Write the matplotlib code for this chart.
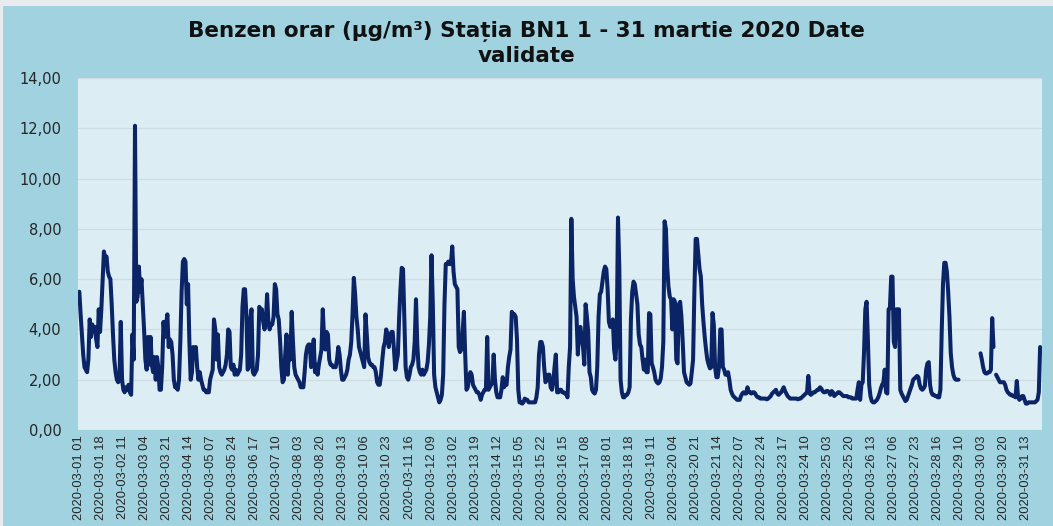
import numpy as np
import matplotlib
matplotlib.use("Agg")
import matplotlib.pyplot as plt
from matplotlib.ticker import FuncFormatter, MultipleLocator

# ---- data: hourly benzene concentration (µg/m³), one list per calendar day ----
N = None
day01 = [5.5, 4.6, 3.8, 3.0, 2.5, 2.4, 2.3, 2.8, 4.4, 3.7, 4.2, 4.0, 4.1, 3.6, 3.3, 4.8, 3.9, 4.8, 6.0, 7.1, 6.8, 6.9, 6.3, 6.1]
day02 = [6.0, 5.0, 3.8, 2.8, 2.3, 2.0, 1.9, 2.0, 4.3, 2.0, 1.6, 1.5, 1.7, 1.6, 1.8, 1.5, 1.4, 3.8, 2.8, 12.1, 5.1, 5.3, 6.5, 5.5]
day03 = [6.0, 5.0, 4.0, 2.8, 2.4, 3.7, 2.6, 3.7, 2.6, 2.3, 2.9, 2.0, 2.9, 2.5, 1.6, 1.6, 2.5, 4.3, 3.7, 4.2, 4.6, 3.3, 3.6, 3.5]
day04 = [3.0, 2.0, 1.7, 1.7, 1.6, 2.0, 3.5, 5.5, 6.7, 6.8, 6.7, 5.0, 5.8, 3.5, 2.0, 2.3, 3.3, 3.0, 3.3, 2.5, 2.0, 2.3, 2.0, 1.8]
day05 = [1.6, 1.6, 1.5, 1.5, 1.5, 2.0, 2.2, 2.4, 4.4, 4.0, 2.8, 3.8, 2.5, 2.3, 2.2, 2.3, 2.4, 2.6, 3.0, 4.0, 3.9, 2.5, 2.4, 2.6]
day06 = [2.2, 2.4, 2.2, 2.3, 2.4, 3.0, 4.9, 5.6, 5.6, 4.6, 2.4, 2.5, 4.4, 4.8, 2.3, 2.2, 2.3, 2.4, 3.0, 4.9, 4.8, 4.8, 4.3, 4.0]
day07 = [4.2, 5.4, 4.3, 4.0, 4.2, 4.2, 4.5, 5.8, 5.6, 4.6, 4.4, 3.6, 2.5, 1.9, 2.0, 3.0, 3.8, 2.2, 3.3, 2.8, 4.7, 3.5, 2.5, 2.2]
day08 = [2.1, 2.0, 1.9, 1.7, 1.7, 1.7, 2.3, 3.0, 3.3, 3.4, 3.4, 2.5, 3.0, 3.6, 2.3, 2.6, 2.2, 2.6, 2.9, 3.2, 4.8, 3.7, 3.2, 3.9]
day09 = [3.8, 2.8, 2.6, 2.6, 2.5, 2.5, 2.5, 2.8, 3.3, 3.0, 2.4, 2.0, 2.0, 2.1, 2.2, 2.4, 2.8, 3.0, 3.5, 4.6, 6.05, 5.4, 4.5, 4.0]
day10 = [3.3, 3.1, 2.9, 2.7, 2.5, 4.6, 3.8, 2.9, 2.7, 2.6, 2.6, 2.5, 2.5, 2.3, 1.9, 1.8, 1.8, 2.2, 2.8, 3.3, 3.5, 4.0, 3.8, 3.3]
day11 = [3.7, 3.9, 3.9, 3.2, 2.4, 2.7, 3.0, 4.5, 5.6, 6.45, 6.4, 4.5, 2.5, 2.1, 2.0, 2.2, 2.5, 2.6, 2.8, 3.5, 5.2, 3.4, 2.5, 2.3]
day12 = [2.2, 2.4, 2.2, 2.3, 2.4, 2.7, 3.4, 4.5, 6.95, 5.0, 2.2, 1.7, 1.5, 1.3, 1.1, 1.2, 1.4, 2.2, 5.0, 6.6, 6.6, 6.7, 6.6, 6.6]
day13 = [7.3, 6.3, 5.8, 5.7, 5.6, 3.3, 3.1, 3.2, 3.9, 4.7, 3.0, 1.6, 1.7, 2.1, 2.3, 2.2, 1.8, 1.7, 1.6, 1.5, 1.5, 1.4, 1.2, 1.4]
day14 = [1.5, 1.6, 1.6, 3.7, 1.6, 1.7, 1.8, 1.9, 3.0, 2.0, 1.5, 1.3, 1.3, 1.3, 1.6, 2.1, 1.7, 1.8, 1.8, 2.5, 2.9, 3.2, 4.7, 4.6]
day15 = [4.6, 4.5, 3.6, 1.6, 1.1, 1.1, 1.05, 1.1, 1.25, 1.2, 1.2, 1.1, 1.1, 1.1, 1.1, 1.1, 1.1, 1.3, 1.7, 3.0, 3.5, 3.5, 3.3, 2.5]
day16 = [1.9, 2.0, 2.2, 2.2, 1.7, 1.6, 1.9, 2.5, 3.0, 1.5, 1.5, 1.6, 1.6, 1.5, 1.5, 1.45, 1.45, 1.3, 2.5, 3.3, 8.4, 6.0, 5.3, 4.9]
day17 = [4.5, 3.0, 4.0, 4.1, 3.6, 3.3, 2.6, 5.0, 4.5, 3.9, 2.3, 2.1, 1.6, 1.5, 1.45, 1.6, 2.5, 4.5, 5.4, 5.5, 5.9, 6.3, 6.5, 6.4]
day18 = [5.6, 4.3, 4.1, 4.1, 4.4, 3.2, 2.8, 3.6, 8.45, 6.5, 2.0, 1.5, 1.3, 1.3, 1.4, 1.4, 1.5, 1.7, 4.4, 5.5, 5.9, 5.8, 5.4, 5.0]
day19 = [3.8, 3.4, 3.3, 2.8, 2.4, 2.8, 2.3, 2.3, 4.65, 4.6, 2.65, 2.5, 2.3, 2.0, 1.9, 1.85, 1.9, 2.05, 2.5, 3.5, 8.3, 8.0, 6.5, 5.7]
day20 = [5.3, 5.2, 4.0, 5.2, 5.1, 2.8, 2.65, 5.0, 5.1, 4.5, 3.5, 2.3, 2.1, 1.9, 1.85, 1.8, 1.85, 2.3, 2.8, 5.5, 7.6, 7.6, 7.0, 6.4]
day21 = [6.1, 5.0, 4.3, 3.7, 3.2, 2.8, 2.6, 2.45, 2.5, 4.65, 4.2, 2.5, 2.1, 2.1, 2.5, 4.0, 4.0, 2.5, 2.4, 2.2, 2.2, 2.3, 2.0, 1.6]
day22 = [1.45, 1.35, 1.3, 1.25, 1.2, 1.2, 1.2, 1.35, 1.45, 1.5, 1.45, 1.45, 1.7, 1.5, 1.5, 1.45, 1.5, 1.5, 1.45, 1.35, 1.3, 1.3, 1.25, 1.25]
day23 = [1.25, 1.25, 1.25, 1.22, 1.25, 1.3, 1.35, 1.45, 1.5, 1.55, 1.6, 1.45, 1.4, 1.45, 1.5, 1.6, 1.7, 1.55, 1.45, 1.35, 1.3, 1.25, 1.25, 1.25]
day24 = [1.25, 1.25, 1.25, 1.22, 1.25, 1.25, 1.3, 1.35, 1.4, 1.45, 1.5, 2.15, 1.45, 1.4, 1.45, 1.5, 1.5, 1.55, 1.6, 1.6, 1.7, 1.65, 1.55, 1.5]
day25 = [1.5, 1.55, 1.55, 1.5, 1.4, 1.55, 1.5, 1.35, 1.4, 1.45, 1.5, 1.5, 1.45, 1.4, 1.35, 1.35, 1.35, 1.35, 1.3, 1.3, 1.3, 1.25, 1.25, 1.25]
day26 = [1.25, 1.6, 1.9, 1.2, 1.8, 1.9, 3.05, 4.8, 5.1, 3.6, 1.8, 1.35, 1.15, 1.1, 1.1, 1.15, 1.2, 1.3, 1.45, 1.65, 1.8, 1.9, 2.4, 1.5]
day27 = [1.45, 4.8, 4.85, 6.1, 6.1, 3.5, 3.3, 4.8, 4.8, 4.8, 1.6, 1.45, 1.35, 1.25, 1.15, 1.2, 1.35, 1.5, 1.65, 1.8, 2.0, 2.05, 2.1, 2.15]
day28 = [2.1, 1.8, 1.65, 1.6, 1.65, 1.75, 2.4, 2.65, 2.7, 1.8, 1.5, 1.4, 1.4, 1.35, 1.35, 1.3, 1.3, 1.6, 3.9, 5.8, 6.65, 6.65, 6.3, 5.5]
# 29 March has 23 hours (DST change); hours 10..24 missing
day29 = [4.5, 3.05, 2.5, 2.2, 2.05, 2.0, 2.0, 2.0, N, N, N, N, N, N, N, N, N, N, N, N, N, N, N]
day30 = [N, 3.05, 2.8, 2.5, 2.3, 2.25, 2.25, 2.3, 2.3, 2.4, 4.45, 3.3, N, 2.2, 2.1, 2.0, 1.9, 1.9, 1.9, 1.9, 1.8, 1.6, 1.5, 1.45]
day31 = [1.4, 1.4, 1.35, 1.35, 1.3, 1.95, 1.3, 1.2, 1.25, 1.35, 1.35, 1.2, 1.05, 1.05, 1.1, 1.1, 1.1, 1.1, 1.1, 1.1, 1.15, 1.2, 1.5, 3.3]

days = [day01, day02, day03, day04, day05, day06, day07, day08, day09, day10,
        day11, day12, day13, day14, day15, day16, day17, day18, day19, day20,
        day21, day22, day23, day24, day25, day26, day27, day28, day29, day30, day31]

tick_labels = [
    "2020-03-01 01", "2020-03-01 18", "2020-03-02 11", "2020-03-03 04", "2020-03-03 21",
    "2020-03-04 14", "2020-03-05 07", "2020-03-05 24", "2020-03-06 17", "2020-03-07 10",
    "2020-03-08 03", "2020-03-08 20", "2020-03-09 13", "2020-03-10 06", "2020-03-10 23",
    "2020-03-11 16", "2020-03-12 09", "2020-03-13 02", "2020-03-13 19", "2020-03-14 12",
    "2020-03-15 05", "2020-03-15 22", "2020-03-16 15", "2020-03-17 08", "2020-03-18 01",
    "2020-03-18 18", "2020-03-19 11", "2020-03-20 04", "2020-03-20 21", "2020-03-21 14",
    "2020-03-22 07", "2020-03-22 24", "2020-03-23 17", "2020-03-24 10", "2020-03-25 03",
    "2020-03-25 20", "2020-03-26 13", "2020-03-27 06", "2020-03-27 23", "2020-03-28 16",
    "2020-03-29 10", "2020-03-30 03", "2020-03-30 20", "2020-03-31 13",
]
tick_step = 17

title = "Benzen orar (µg/m³) Stația BN1 1 - 31 martie 2020 Date\nvalidate"

# ---- plotting ----
values = np.array([v for d in days for v in d], dtype=float)
x = np.arange(len(values))

plt.rcParams['font.family'] = ['Liberation Sans', 'DejaVu Sans']

fig = plt.figure(figsize=(10.53, 5.26), dpi=100)
fig.patch.set_facecolor('#a0d2e0')

# light screenshot border (top and left)
fig.add_artist(plt.Rectangle((0, 1 - 6 / 526), 1, 6 / 526, transform=fig.transFigure,
                             facecolor='#e9ecee', edgecolor='none'))
fig.add_artist(plt.Rectangle((0, 0), 3 / 1053, 1, transform=fig.transFigure,
                             facecolor='#e9ecee', edgecolor='none'))

ax = fig.add_axes([0.0741, 0.1825, 0.9155, 0.6692])
ax.set_facecolor('#dcedf3')

ax.plot(x, values, color='#0b2466', lw=2.9, solid_joinstyle='round', solid_capstyle='round')

ax.set_ylim(0, 14)
ax.set_xlim(-1, len(values) + 0.5)
ax.yaxis.set_major_locator(MultipleLocator(2))
ax.yaxis.set_major_formatter(FuncFormatter(lambda v, p: f"{v:.2f}".replace('.', ',')))
ax.grid(axis='y', color='#cfdde3', lw=0.9)
ax.set_axisbelow(True)

ticks = np.arange(len(tick_labels)) * tick_step
ax.set_xticks(ticks)
ax.set_xticklabels(tick_labels, rotation=90, fontsize=9.3, color='#262626')
ax.tick_params(axis='y', labelsize=10.5, colors='#262626', length=0, pad=12)
ax.tick_params(axis='x', length=0, pad=4)
for lab in ax.get_yticklabels():
    lab.set_family('DejaVu Sans')
for s in ax.spines.values():
    s.set_visible(False)

fig.text(0.5, 0.918, title, ha='center', va='center', fontsize=15.5, fontweight='bold',
         family='DejaVu Sans', color='#111111', linespacing=1.25)

fig.savefig('out.png', dpi=100, facecolor=fig.get_facecolor())
